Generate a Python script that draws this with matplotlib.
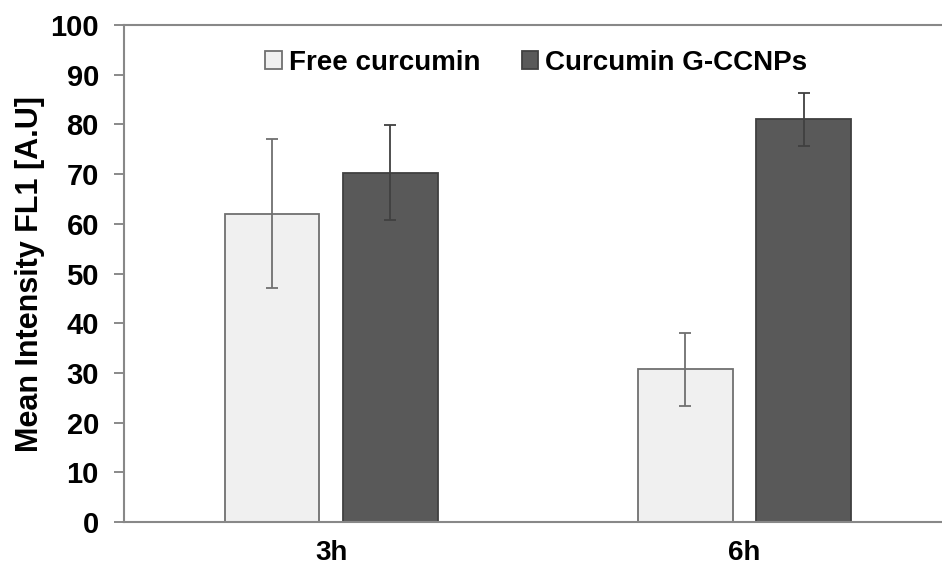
import matplotlib
matplotlib.use('Agg')
import matplotlib.pyplot as plt
import numpy as np

groups = ['3h', '6h']
series = ['Free curcumin', 'Curcumin G-CCNPs']
free_vals = [62.0, 30.7]
free_err = [15.0, 7.3]
ccnp_vals = [70.3, 81.0]
ccnp_err = [9.6, 5.4]

plt.rcParams['font.family'] = ['Liberation Sans', 'DejaVu Sans']
plt.rcParams['font.weight'] = 'bold'

fig = plt.figure(figsize=(9.42, 5.71), dpi=100)
ax = fig.add_axes([0.1316, 0.0858, 0.8684, 0.8704])

x = np.arange(len(groups))
w = 0.228
off = 0.143

ax.bar(x - off, free_vals, w, color='#f0f0f0', edgecolor='#707070', linewidth=1.3,
       label=series[0], zorder=2)
ax.bar(x + off, ccnp_vals, w, color='#595959', edgecolor='#404040', linewidth=1.3,
       label=series[1], zorder=2)
ax.errorbar(x - off, free_vals, yerr=free_err, fmt='none', ecolor='#707070',
            elinewidth=1.3, capsize=4.5, capthick=1.3, zorder=3)
ax.errorbar(x + off, ccnp_vals, yerr=ccnp_err, fmt='none', ecolor='#404040',
            elinewidth=1.3, capsize=4.5, capthick=1.3, zorder=3)

ax.set_xlim(-0.502, 1.478)
ax.set_ylim(0, 100)
ax.set_yticks(range(0, 101, 10))
ax.set_xticks(x)
ax.set_xticklabels(groups, fontsize=20, fontweight='bold')
ax.tick_params(axis='x', length=0, pad=13)
ax.tick_params(axis='y', length=7, width=1.3, color='#808080', labelsize=21, pad=11)
for lab in ax.get_yticklabels():
    lab.set_fontweight('bold')

for side in ['left', 'bottom', 'top']:
    ax.spines[side].set_color('#888888')
    ax.spines[side].set_linewidth(1.5)
ax.spines['right'].set_visible(False)

ax.set_ylabel('Mean Intensity FL1 [A.U]', fontsize=22, fontweight='bold', labelpad=4)

leg = ax.legend(loc='center', bbox_to_anchor=(0.504, 0.9235), ncol=2, frameon=False,
                fontsize=20, handlelength=0.6, handleheight=0.6, handletextpad=0.25,
                columnspacing=1.5, borderpad=0, borderaxespad=0)
for t in leg.get_texts():
    t.set_fontweight('bold')

fig.savefig('out.png', dpi=100)
